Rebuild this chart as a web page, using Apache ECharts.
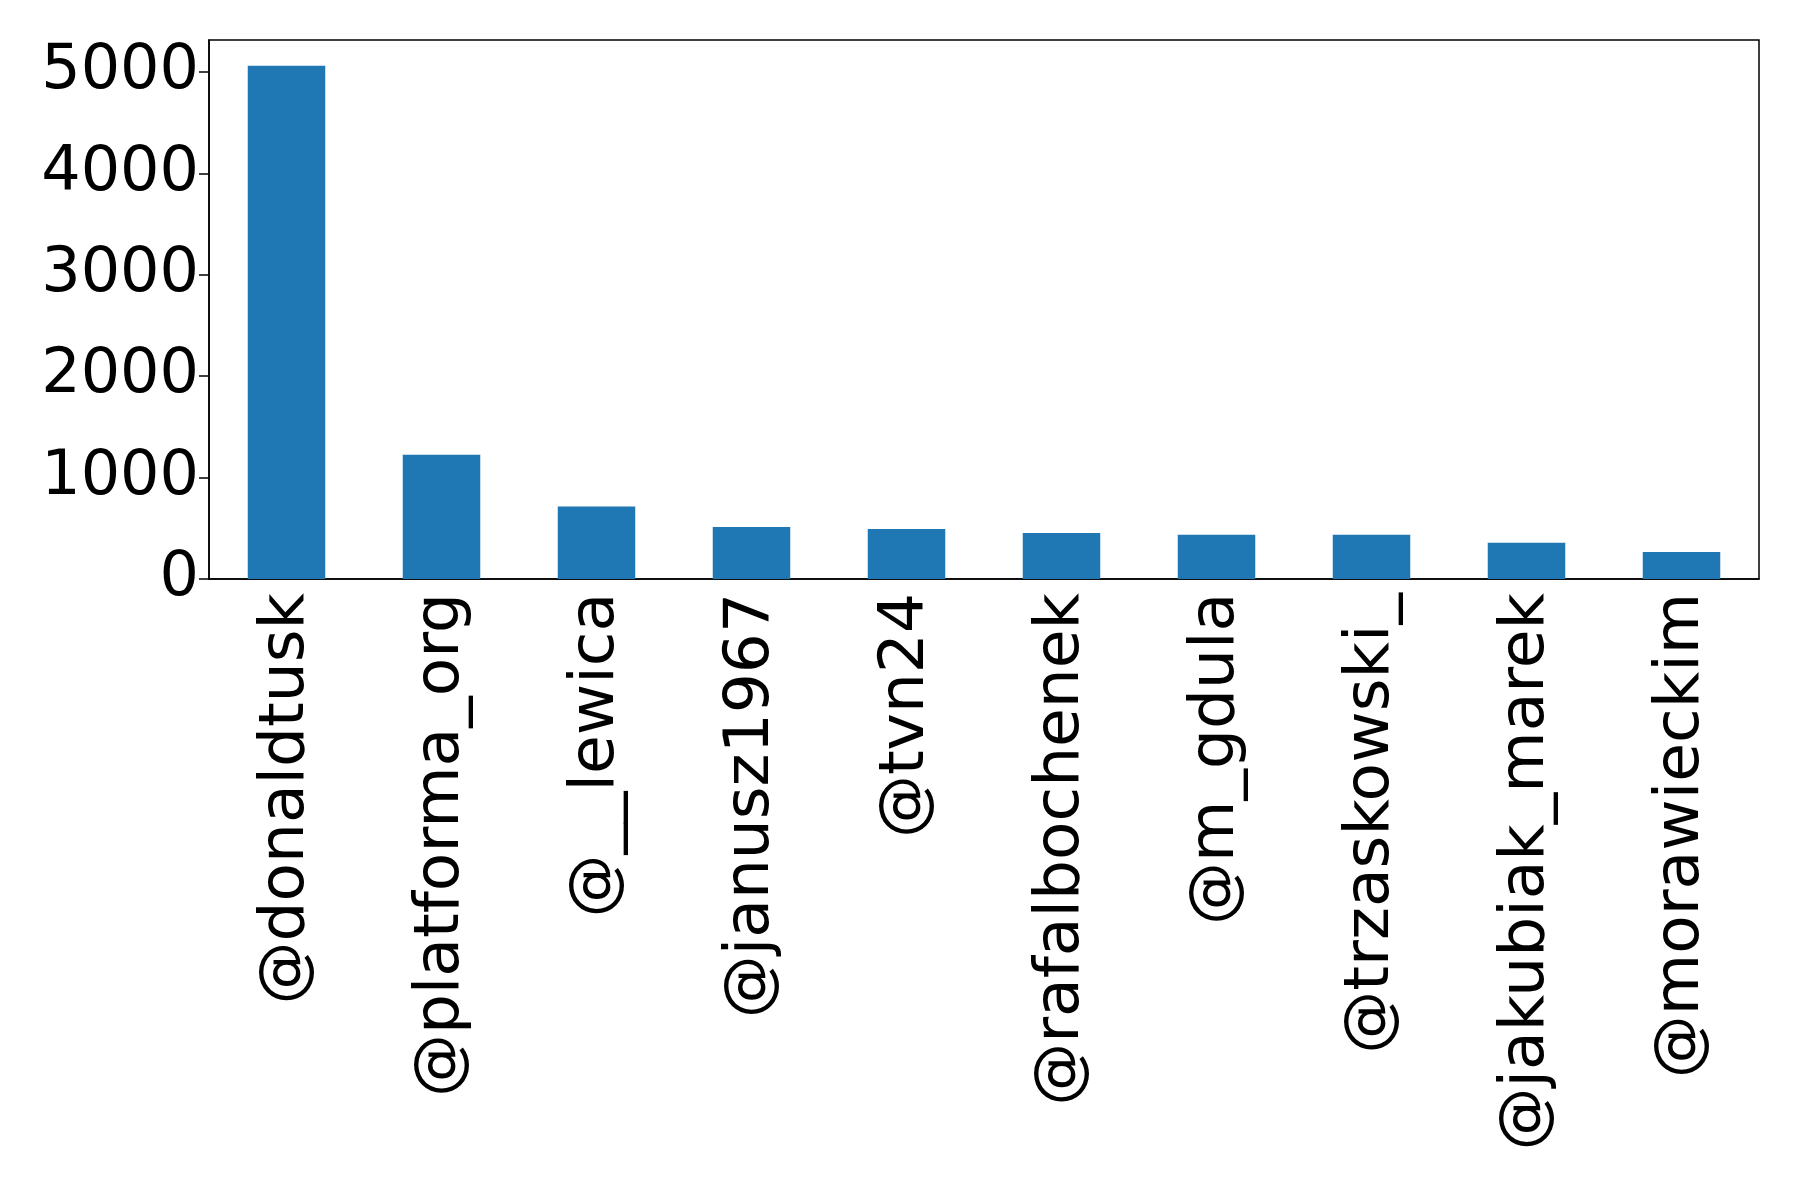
<!DOCTYPE html>
<html lang="en">
<head>
    <meta charset="UTF-8">
    <title>mentions</title>
    <script src="https://cdn.jsdelivr.net/npm/echarts@6/dist/echarts.min.js"></script>
    <style>
        html, body { margin: 0; padding: 0; background: #fff; }
        #main { width: 1798px; height: 1181px; }
    </style>
</head>
<body>
<div id="main"></div>
<script>
    // accounts and counts
    var accounts = ['@donaldtusk', '@platforma_org', '@__lewica', '@janusz1967', '@tvn24',
        '@rafalbochenek', '@m_gdula', '@trzaskowski_', '@jakubiak_marek', '@morawieckim'];
    var counts = [5062, 1225, 714, 514, 494, 454, 436, 436, 358, 266];
    var yTicks = [0, 1000, 2000, 3000, 4000, 5000];
    var yMax = 5316;  // matplotlib pads the top by 5%

    var font = 'DejaVu Sans';
    var myChart = echarts.init(document.getElementById('main'));

    var option = {
        animation: false,
        grid: {
            left: 209,
            right: 39,
            top: 40,
            bottom: 602,
            show: true,
            borderColor: '#000',
            borderWidth: 1.5,
            backgroundColor: '#fff'
        },
        xAxis: {
            type: 'category',
            data: accounts,
            boundaryGap: true,
            axisLine: { lineStyle: { color: '#000', width: 1.5 } },
            axisTick: { alignWithLabel: true, length: 10, lineStyle: { color: '#000', width: 1.5 } },
            axisLabel: {
                interval: 0,
                rotate: 90,
                margin: 14,
                color: '#000',
                fontFamily: font,
                fontSize: 63
            },
            splitLine: { show: false }
        },
        yAxis: {
            type: 'value',
            min: 0,
            max: yMax,
            interval: 1000,
            axisLine: { show: true, lineStyle: { color: '#000', width: 1.5 } },
            axisTick: { show: true, length: 10, customValues: yTicks, lineStyle: { color: '#000', width: 1.5 } },
            axisLabel: {
                customValues: yTicks,
                margin: 10,
                color: '#000',
                fontFamily: font,
                fontSize: 62,
                formatter: function (v) { return String(v); }
            },
            splitLine: { show: false }
        },
        series: [{
            type: 'bar',
            data: counts,
            barCategoryGap: '50%',
            itemStyle: { color: '#1f77b4' }
        }]
    };

    myChart.setOption(option);
</script>
</body>
</html>
